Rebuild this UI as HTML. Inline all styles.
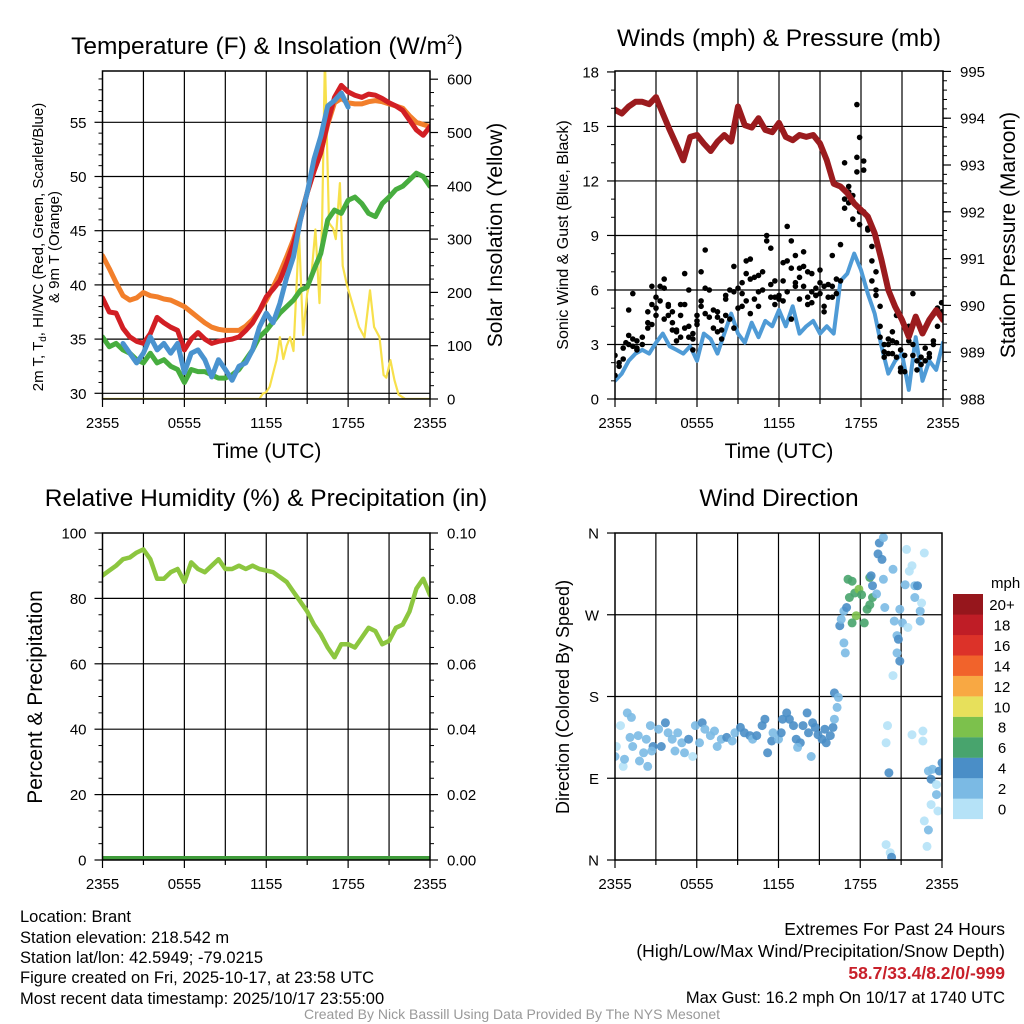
<!DOCTYPE html>
<html><head><meta charset="utf-8"><style>
html,body{margin:0;padding:0;background:#fff;}
svg{display:block;font-family:"Liberation Sans",Arial,sans-serif;}
</style></head><body>
<svg id="chart" width="1024" height="1024" viewBox="0 0 1024 1024">
<defs>
<clipPath id="c1"><rect x="102.5" y="71" width="327.5" height="328"/></clipPath>
<clipPath id="c2"><rect x="615" y="71" width="328" height="328"/></clipPath>
<clipPath id="c3"><rect x="102.5" y="533" width="327.5" height="327"/></clipPath>
<clipPath id="c4"><rect x="615" y="533" width="327" height="327"/></clipPath>
</defs>
<g id="grid"></g>
<g id="data"></g>
<g id="axes"></g>
<g id="labels" font-size="13" fill="#000">
<text x="267" y="54" font-size="24.5" text-anchor="middle">Temperature (F) &amp; Insolation (W/m<tspan font-size="14" dy="-10">2</tspan><tspan dy="10">)</tspan></text>
<text x="779" y="46" font-size="24.5" text-anchor="middle">Winds (mph) &amp; Pressure (mb)</text>
<text x="266" y="506" font-size="24.5" text-anchor="middle">Relative Humidity (%) &amp; Precipitation (in)</text>
<text x="779" y="506" font-size="24.5" text-anchor="middle">Wind Direction</text>
<text transform="translate(43,247) rotate(-90)" font-size="15" text-anchor="middle">2m T, T<tspan font-size="10" dy="3">d</tspan><tspan dy="-3">, HI/WC (Red, Green, Scarlet/Blue)</tspan></text>
<text transform="translate(59,247) rotate(-90)" font-size="15" text-anchor="middle">&amp; 9m T (Orange)</text>
<text transform="translate(502,235) rotate(-90)" font-size="21" text-anchor="middle">Solar Insolation (Yellow)</text>
<text x="267" y="458" font-size="21" text-anchor="middle">Time (UTC)</text>
<text transform="translate(568,235) rotate(-90)" font-size="16" text-anchor="middle">Sonic Wind &amp; Gust (Blue, Black)</text>
<text transform="translate(1015,235) rotate(-90)" font-size="21" text-anchor="middle">Station Pressure (Maroon)</text>
<text x="779" y="458" font-size="21" text-anchor="middle">Time (UTC)</text>
<text transform="translate(42,697) rotate(-90)" font-size="21" text-anchor="middle">Percent &amp; Precipitation</text>
<text transform="translate(569,697) rotate(-90)" font-size="18" text-anchor="middle">Direction (Colored By Speed)</text>
<text x="991" y="588" font-size="15">mph</text>
<g font-size="16.5">
<text x="20" y="922">Location: Brant</text>
<text x="20" y="943">Station elevation: 218.542 m</text>
<text x="20" y="963">Station lat/lon: 42.5949; -79.0215</text>
<text x="20" y="983">Figure created on Fri, 2025-10-17, at 23:58 UTC</text>
<text x="20" y="1004">Most recent data timestamp: 2025/10/17 23:55:00</text>
</g>
<g font-size="17.5" text-anchor="end">
<text x="1005" y="935">Extremes For Past 24 Hours</text>
<text x="1005" y="957">(High/Low/Max Wind/Precipitation/Snow Depth)</text>
<text x="1005" y="979" fill="#c8202a" font-weight="bold">58.7/33.4/8.2/0/-999</text>
<text x="1005" y="1003" font-size="16.5">Max Gust: 16.2 mph On 10/17 at 1740 UTC</text>
</g>
<text x="512" y="1019" font-size="14" fill="#999" text-anchor="middle">Created By Nick Bassill Using Data Provided By The NYS Mesonet</text>
</g>
</svg>
<script>
// ---- data (time in hours since 2355 UTC) ----
const timeLabels = ["2355","0555","1155","1755","2355"];
const halfHourTimes = [0,0.5,1,1.5,2,2.5,3,3.5,4,4.5,5,5.5,6,6.5,7,7.5,8,8.5,9,9.5,10,10.5,11,11.5,12,12.5,13,13.5,14,14.5,15,15.5,16,16.5,17,17.5,18,18.5,19,19.5,20,20.5,21,21.5,22,22.5,23,23.5,24];
const tempRed = [38.8,37.5,37.4,36.0,35.2,34.8,34.6,35.5,37.0,36.5,36.1,35.8,34.0,35.0,35.6,35.0,34.6,34.8,34.9,35.0,35.2,35.8,36.5,37.6,38.9,39.6,40.4,42.0,43.8,46.0,48.5,50.5,52.2,55.0,57.3,58.4,57.8,57.5,57.3,57.6,57.5,57.2,56.8,56.5,56.1,55.2,54.3,53.8,54.6];
const tempOrange = [42.7,41.5,40.2,39.0,38.6,38.8,39.3,39.0,38.9,38.7,38.6,38.3,38.0,37.5,37.0,36.5,36.1,35.9,35.8,35.8,35.8,36.2,36.8,37.6,38.6,39.8,41.1,42.6,44.2,46.3,48.5,50.5,52.2,54.8,56.8,57.2,56.8,56.7,56.7,56.9,57.0,56.9,56.7,56.5,56.3,55.6,55.0,54.8,54.6];
const dewGreen = [35.2,34.3,34.6,34.0,33.7,33.1,32.8,33.7,32.8,33.1,32.5,32.2,31.0,32.2,32.0,32.0,31.7,31.4,31.4,31.7,32.2,33.1,34.0,35.2,35.8,36.6,37.4,38.0,38.6,39.5,39.8,41.4,42.9,46.0,46.9,46.6,47.8,48.1,47.5,46.6,46.3,47.5,48.1,48.8,49.1,49.7,50.3,50.0,49.1];
const hiTimes = [1.5,2,2.5,3,3.5,4,4.5,5,5.5,6,6.5,7,7.5,8,8.5,9,9.5,10,10.5,11,11.5,12,12.5,13,13.5,14,14.5,15,15.5,16,16.5,17,17.5,18];
const hiBlue = [34.6,33.7,32.8,33.7,35.2,34.0,34.6,33.7,34.6,31.9,33.7,34.0,33.1,31.5,33.1,32.2,31.2,32.5,32.8,34.0,36.1,37.4,36.5,38.3,40.7,42.6,46.0,48.5,51.6,53.7,56.5,57.0,57.7,56.4];
const solarTimes = [0,11.5,11.75,12,12.25,12.5,12.75,13,13.25,13.5,13.75,14,14.4,14.7,15,15.3,15.6,15.9,16.1,16.3,16.6,16.9,17.1,17.4,17.6,17.9,18.3,18.8,19.2,19.6,19.9,20.3,20.6,20.8,21.1,21.4,21.7,22.2,24];
const solarValues = [0,0,10,13,23,48,73,116,75,100,116,90,311,120,198,230,318,180,341,640,330,320,300,405,250,215,180,135,116,204,135,116,45,40,73,35,8,0,0];
const pressure = [994.18,994.1,994.25,994.35,994.35,994.3,994.45,994.1,993.75,993.43,993.1,993.6,993.64,993.46,993.3,993.5,993.64,993.5,994.25,993.85,993.8,994.0,993.75,993.7,993.9,993.6,993.53,993.64,993.6,993.64,993.46,993.1,992.6,992.54,992.4,992.18,992.04,991.9,991.54,990.97,990.33,989.97,989.69,989.33,989.76,989.4,989.69,989.9,989.69];
const sonicWind = [1.0,1.4,2.1,2.5,2.7,2.5,3.1,3.6,2.9,2.7,2.5,2.9,2.1,3.6,3.3,2.5,3.6,4.7,3.6,3.1,4.2,3.4,4.3,4.0,4.9,4.0,5.1,3.6,4.0,4.3,3.6,4.0,3.6,6.5,6.9,8.0,7.1,5.8,4.7,2.9,1.4,2.1,2.5,0.5,3.4,1.0,2.1,1.6,3.1];
const gustTimes = [0,0,0.3,0.3,0.6,0.6,0.8,1,1,1,1.3,1.3,1.3,1.6,1.6,1.6,2,2,2.4,2.4,2.4,2.7,2.7,2.7,3,3,3,3.3,3.3,3.6,3.6,3.6,3.9,3.9,3.9,4.2,4.2,4.2,4.5,4.5,4.5,4.8,4.8,4.8,5.1,5.1,5.1,5.4,5.4,5.4,5.7,5.7,5.7,6,6,6,6.3,6.3,6.3,6.6,6.6,6.6,6.9,6.9,7.2,7.2,7.5,7.5,7.5,7.8,7.8,7.8,8.1,8.1,8.1,8.4,8.4,8.7,8.7,8.7,9,9,9.3,9.3,9.3,9.6,9.6,9.6,9.9,9.9,9.9,10.2,10.2,10.5,10.5,10.5,10.8,10.8,11.1,11.1,11.4,11.4,11.4,11.7,11.7,11.7,12,12,12.3,12.3,12.3,12.6,12.6,12.6,12.9,12.9,12.9,13.2,13.2,13.2,13.5,13.5,13.5,13.8,13.8,13.8,14.1,14.1,14.1,14.4,14.4,14.4,14.7,14.7,14.7,15,15,15,15.3,15.3,15.3,15.6,15.6,15.9,15.9,15.9,16.2,16.2,16.5,16.5,16.8,16.8,16.8,17.1,17.1,17.1,17.4,17.4,17.7,17.7,17.7,17.9,17.9,17.9,18.2,18.2,18.2,18.5,18.5,18.5,18.8,18.8,18.8,19.1,19.1,19.1,19.4,19.4,19.4,19.7,19.7,19.7,20,20,20,20.3,20.3,20.3,20.6,20.6,20.6,20.9,20.9,20.9,21.2,21.2,21.5,21.5,21.8,21.8,21.8,22.1,22.1,22.4,22.4,22.7,22.7,23,23,23.3,23.3,23.6,23.6,23.9,23.9];
const gustValues = [1.3,2.4,2.0,1.8,2.2,2.8,3.1,3.5,4.9,3.0,5.8,3.3,2.9,2.7,3.2,2.8,3.0,3.4,4.2,4.8,3.9,6.2,5.2,4.1,5.6,4.6,5.0,6.2,5.4,6.6,6.1,4.4,5.1,5.2,4.6,4.2,3.8,4.8,3.7,3.8,3.2,3.4,5.2,4.6,6.9,5.2,3.9,6.0,4.0,3.4,3.3,3.6,2.7,4.1,4.6,4.3,7.0,5.1,5.4,8.2,6.1,4.7,6.0,4.5,3.9,4.9,4.5,4.8,3.7,4.3,3.8,3.3,5.7,5.5,4.6,6.0,4.4,7.3,5.9,3.9,6.1,5.0,5.8,6.4,5.1,7.6,6.9,5.4,7.7,6.6,4.7,6.7,5.5,6.8,5.9,5.1,7.0,6.0,9.0,8.7,8.3,6.3,5.6,5.6,6.5,5.2,5.7,5.5,6.5,7.5,5.4,9.5,7.6,5.9,8.7,7.2,4.4,7.9,6.4,6.2,5.5,6.7,7.2,8.1,6.2,7.3,7.0,5.6,5.2,6.9,5.9,5.3,6.1,5.7,5.7,7.1,6.4,5.8,6.2,5.1,4.8,6.3,5.6,7.9,6.2,5.6,6.6,5.8,8.5,6.5,13.0,11.0,10.5,11.7,11.4,10.8,11.2,9.9,16.2,13.3,12.5,14.4,9.6,10.3,13.1,12.6,10.3,9.4,9.3,10.0,8.4,7.6,6.5,6.0,7.0,5.7,5.1,4.0,3.4,3.0,2.6,2.3,3.3,3.0,2.5,3.7,3.2,2.5,4.6,3.1,2.3,2.7,1.7,1.5,2.4,1.5,4.0,3.2,5.8,3.0,2.4,2.1,1.6,2.3,1.9,2.8,2.1,2.3,2.5,3.0,3.2,5.0,4.0,5.3,4.8];
const relHumidity = [87,88.5,90,92,92.5,94,95,92,86,86,88,89,85,91,89,88,90,92,89,89,90,89,90,89,88.5,88,86.5,85,82,79,76,72,69,65,62,66,66,65,68,71,70,66,67,71,72,76,83,86,81];
const precip = [0,0,0,0,0,0,0,0,0,0,0,0,0,0,0,0,0,0,0,0,0,0,0,0,0,0,0,0,0,0,0,0,0,0,0,0,0,0,0,0,0,0,0,0,0,0,0,0,0];
const dirTimes = [0,0.1,0.4,0.6,0.9,1.2,1.1,1.3,0.7,1.7,1.8,2.1,2.4,2.3,2.6,2.8,2.7,3.2,3.4,3.7,3.9,4.2,4.4,4.6,4.9,5.1,5.4,5.7,5.9,6.2,6.4,6.6,7.0,7.3,7.5,7.8,8.2,8.6,8.8,9.2,9.5,9.9,10.1,10.4,10.8,11.0,11.2,11.5,11.6,12.0,12.2,12.3,12.6,12.8,13.1,13.3,13.6,13.4,13.8,14.1,14.2,14.5,14.7,14.4,14.9,15.2,15.4,15.5,15.8,16.0,16.1,16.1,16.4,16.3,16.8,16.9,16.5,16.6,16.8,17.0,17.1,17.4,17.2,17.6,17.9,18.1,17.7,17.4,18.3,18.5,18.7,18.9,19.2,18.7,18.9,18.8,19.3,19.6,19.4,19.7,19.7,19.8,20.4,20.5,20.7,20.8,20.7,20.9,20.4,20.9,21.1,21.3,21.4,21.5,21.8,21.6,22.0,22.2,22.0,22.4,22.4,22.5,22.7,20.0,19.9,20.1,21.8,22.6,22.6,23.0,23.3,24.0,23.8,23.2,23.6,23.6,23.2,23.7,22.7,23.0,22.9,19.9,20.2,20.3];
const dirValues = [114,125,148,103,162,157,135,125,111,137,109,118,103,133,148,125,120,144,125,151,140,133,120,140,129,118,133,114,148,129,151,144,137,142,125,133,135,131,140,146,140,137,133,137,148,155,118,131,140,133,140,155,162,155,148,133,129,124,148,162,140,151,146,114,138,133,144,129,137,146,155,184,179,168,239,228,258,265,274,278,309,307,289,294,298,292,269,261,261,276,281,289,293,311,302,313,337,331,349,355,309,278,320,263,247,243,228,219,203,276,261,303,342,256,324,318,302,302,289,274,263,283,338,148,129,96,138,142,131,98,100,107,98,89,83,72,61,54,43,33,15,17,8,3];
const dirSpeeds = [3,1,1,1,3,3,3,3,3,3,3,3,3,3,3,5,3,3,5,5,3,3,3,3,3,3,5,1,3,3,5,3,3,3,3,3,5,3,3,5,5,5,3,5,5,5,5,5,3,3,5,5,5,5,5,5,5,3,5,5,5,5,5,3,5,5,5,5,5,5,3,5,3,3,3,3,5,3,3,5,7,7,7,7,9,7,9,7,7,7,7,7,3,7,5,5,5,5,5,3,3,3,3,3,3,5,3,5,1,3,3,3,1,1,1,1,3,5,3,3,3,1,1,1,1,5,1,1,1,3,3,5,5,5,1,3,1,1,1,3,1,1,1,5];
const speedBinLabels = ["0","2","4","6","8","10","12","14","16","18","20+"];
const speedBinColors = ["#b5e2f7","#7bbae4","#4a8ec7","#48a46d","#7cc14c","#e7e05b","#f8a843","#f1632b","#dc3229","#bf1d26","#96161c"];
const temp1Ticks = [30,35,40,45,50,55];
const solarTicks = [0,100,200,300,400,500,600];
const windTicks = [0,3,6,9,12,15,18];
const pressTicks = [988,989,990,991,992,993,994,995];
const rhTicks = [0,20,40,60,80,100];
const precipTicks = [0,0.02,0.04,0.06,0.08,0.10];
const dirTicks = [0,90,180,270,360];
const dirTickLabels = ["N","E","S","W","N"];

// ---- layout & scales ----
const NS="http://www.w3.org/2000/svg";
const P1={x0:102.5,x1:430,y0:71,y1:399}, P2={x0:615,x1:943,y0:71,y1:399}, P3={x0:102.5,x1:430,y0:533,y1:860}, P4={x0:615,x1:942,y0:533,y1:860};
const xs=(P,t)=>P.x0+t/24*(P.x1-P.x0);
const yTemp=v=>393.3-(v-30)*10.84;
const ySolar=v=>399-v*0.533;
const yWind=v=>399-v*18.17;
const yPress=p=>399-(p-988)*46.8;
const yRH=v=>860-v*3.27;
const yPrecip=v=>860-v*3270;
const yDir=d=>860-d*0.9083;
const G=document.getElementById('grid'), D=document.getElementById('data'), A=document.getElementById('axes');
function mk(tag,attrs,parent){const e=document.createElementNS(NS,tag);for(const k in attrs)e.setAttribute(k,attrs[k]);parent.appendChild(e);return e;}
function line(x1,y1,x2,y2,parent,w,c){return mk('line',{x1:x1,y1:y1,x2:x2,y2:y2,stroke:c||'#000','stroke-width':w||1},parent);}
function txt(x,y,s,anchor,parent,size){const e=mk('text',{x:x,y:y,'text-anchor':anchor,'font-size':size||13},parent);e.textContent=s;return e;}
function pathD(ts,vs,xf,yf){return ts.map((t,i)=>(i?'L':'M')+xf(t).toFixed(1)+','+yf(vs[i]).toFixed(1)).join('');}

function panelFrame(P,name,leftTicks,leftY,leftLabels,rightTicks,rightY,rightLabels,leftMinor,rightMinor){
  const g=mk('g',{},G);
  
  
  for(let h=3;h<24;h+=3){line(xs(P,h),P.y0,xs(P,h),P.y1,g,1.2);}
  leftTicks.forEach(v=>{const y=leftY(v);if(y>P.y0+1&&y<P.y1-1)line(P.x0,y,P.x1,y,g,1.2);});
  const a=mk('g',{},A);
  
  
  mk('rect',{x:P.x0,y:P.y0,width:P.x1-P.x0,height:P.y1-P.y0,fill:'none',stroke:'#000','stroke-width':1.5},a);
  for(let h=0;h<=24;h+=3){line(xs(P,h),P.y1,xs(P,h),P.y1+(h%6?5:8),a,1.2);}
  timeLabels.forEach((s,i)=>{const l=txt(xs(P,i*6),P.y1+29,s,'middle',a,15);});
  leftTicks.forEach((v,i)=>{const y=leftY(v);line(P.x0-8,y,P.x0,y,a,1.2);const l=txt(P.x0-16,y+5.5,leftLabels[i],'end',a,15);});
  (leftMinor||[]).forEach(v=>line(P.x0-4,leftY(v),P.x0,leftY(v),a,1));
  if(rightTicks){rightTicks.forEach((v,i)=>{const y=rightY(v);line(P.x1,y,P.x1+8,y,a,1.2);const l=txt(P.x1+17,y+5.5,rightLabels[i],'start',a,15);});
  (rightMinor||[]).forEach(v=>line(P.x1,rightY(v),P.x1+4,rightY(v),a,1));}
}
const m1=[],m1r=[],m2=[],m2r=[],m3=[],m3r=[];
for(let v=31;v<60;v++)if(v%5)m1.push(v);
for(let v=25;v<600;v+=25)if(v%100)m1r.push(v);
for(let v=1;v<18;v++)if(v%3)m2.push(v);
for(let p=988.2;p<995;p+=0.2)m2r.push(p);
for(let v=5;v<100;v+=5)if(v%20)m3.push(v);
for(let v=0.005;v<0.1;v+=0.005)m3r.push(v);
panelFrame(P1,'temp-chart',temp1Ticks,yTemp,temp1Ticks.map(String),solarTicks,ySolar,solarTicks.map(String),m1,m1r);
panelFrame(P2,'wind-chart',windTicks,yWind,windTicks.map(String),pressTicks,yPress,pressTicks.map(String),m2,m2r);
panelFrame(P3,'rh-chart',rhTicks,yRH,rhTicks.map(String),precipTicks,yPrecip,precipTicks.map(v=>v.toFixed(2)),m3,m3r);
panelFrame(P4,'winddir-chart',dirTicks,yDir,dirTickLabels,null);

function series(d,color,w,clip,name){const p=mk('path',{d:d,fill:'none',stroke:color,'stroke-width':w,'stroke-linejoin':'round','stroke-linecap':'round','clip-path':'url(#'+clip+')'},D);

return p;}
// panel 1
series(pathD(solarTimes,solarValues,t=>xs(P1,t),ySolar),'#f7e04b',2.2,'c1','solar-insolation-line');
series(pathD(halfHourTimes,dewGreen,t=>xs(P1,t),yTemp),'#47ad3f',5,'c1','dewpoint-line');
series(pathD(halfHourTimes,tempOrange,t=>xs(P1,t),yTemp),'#f27f2b',5,'c1','temp-9m-line');
series(pathD(halfHourTimes,tempRed,t=>xs(P1,t),yTemp),'#d21f24',5,'c1','temp-2m-line');
series(pathD(hiTimes,hiBlue,t=>xs(P1,t),yTemp),'#4a93cf',5,'c1','heat-index-windchill-line');
// panel 2
series(pathD(halfHourTimes,sonicWind,t=>xs(P2,t),yWind),'#4f9bd6',4,'c2','sonic-wind-line');
const gg=mk('g',{'clip-path':'url(#c2)'},D);


gustTimes.forEach((t,i)=>{const c=mk('circle',{cx:xs(P2,t).toFixed(1),cy:yWind(gustValues[i]).toFixed(1),r:2.8,fill:'#000'},gg);

});
series(pathD(halfHourTimes,pressure,t=>xs(P2,t),yPress),'#9b1b1e',6,'c2','pressure-line');
// panel 3
series(pathD(halfHourTimes,relHumidity,t=>xs(P3,t),yRH),'#8cc63f',4.5,'c3','relative-humidity-line');
series(pathD(halfHourTimes,precip,t=>xs(P3,t),yPrecip),'#3f9c3a',8,'c3','precipitation-line');
// panel 4
const dg=mk('g',{'clip-path':'url(#c4)'},D);


dirTimes.forEach((t,i)=>{const bin=Math.min(10,Math.floor(dirSpeeds[i]/2));const c=mk('circle',{cx:xs(P4,t).toFixed(1),cy:yDir(dirValues[i]).toFixed(1),r:4.5,fill:speedBinColors[bin],'fill-opacity':0.9},dg);

});
// colorbar
const cb=mk('g',{},A);


speedBinLabels.forEach((s,i)=>{const y=594+(10-i)*20.45;mk('rect',{x:953,y:y,width:30,height:20.6,fill:speedBinColors[i]},cb);
const l=txt(1002,y+16,s,'middle',cb,15);

});
</script>
</body></html>
